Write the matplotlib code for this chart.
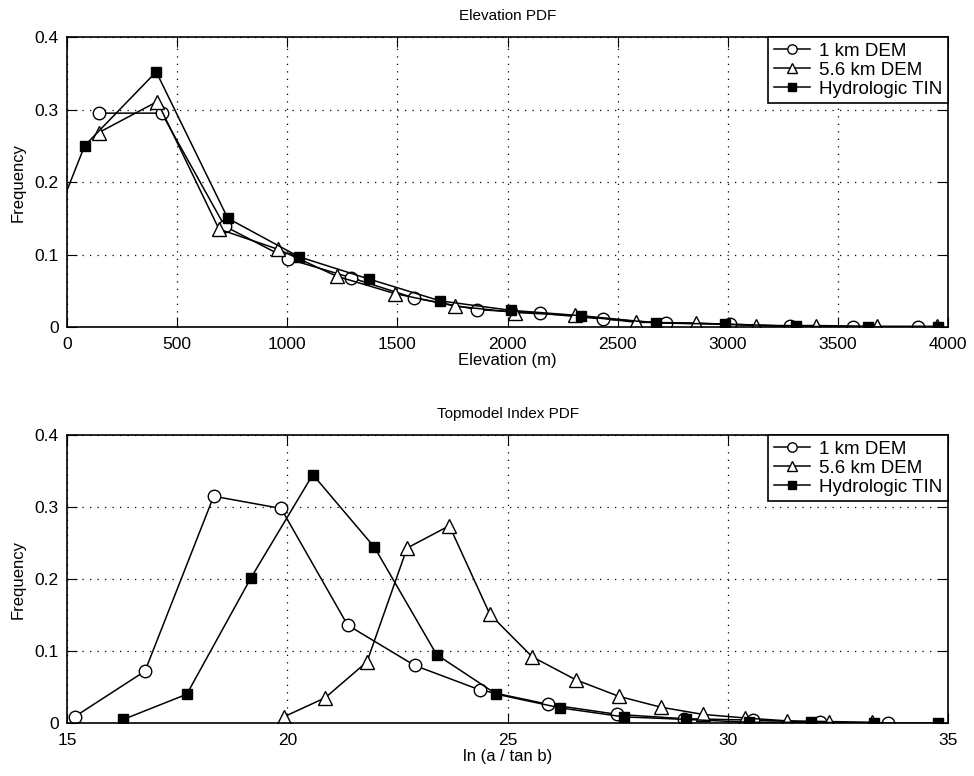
import numpy as np
import matplotlib
matplotlib.use("Agg")
import matplotlib.pyplot as plt

plt.rcParams['font.family'] = ['Liberation Sans', 'DejaVu Sans']

# elevation pdf (top)
elev_1km_x = [143, 430, 716, 1003, 1290, 1576, 1863, 2149, 2433, 2721, 3009, 3282, 3570, 3865]
elev_1km_y = [0.295, 0.295, 0.139, 0.094, 0.068, 0.040, 0.024, 0.019, 0.011, 0.0055, 0.004, 0.001, 0.0, 0.0]
elev_56km_x = [143, 410, 690, 960, 1225, 1490, 1760, 2033, 2305, 2585, 2858, 3130, 3400, 3679, 3948]
elev_56km_y = [0.268, 0.311, 0.135, 0.107, 0.070, 0.046, 0.029, 0.020, 0.016, 0.0065, 0.0055, 0.002, 0.002, 0.001, 0.001]
elev_tin_x = [-245, 80, 405, 730, 1052, 1373, 1695, 2015, 2335, 2676, 2986, 3312, 3638, 3955]
elev_tin_y = [0.0, 0.250, 0.352, 0.150, 0.097, 0.066, 0.036, 0.023, 0.0156, 0.0055, 0.004, 0.001, 0.0, 0.0]

# topmodel index pdf (bottom)
topo_1km_x = [15.18, 16.77, 18.33, 19.86, 21.37, 22.89, 24.37, 25.92, 27.49, 29.0, 30.58, 32.1, 33.63]
topo_1km_y = [0.009, 0.072, 0.315, 0.298, 0.136, 0.080, 0.046, 0.026, 0.012, 0.006, 0.004, 0.001, 0.0]
topo_56km_x = [19.92, 20.86, 21.81, 22.72, 23.68, 24.6, 25.56, 26.55, 27.53, 28.48, 29.43, 30.39, 31.34, 32.3, 33.27]
topo_56km_y = [0.0085, 0.035, 0.085, 0.243, 0.274, 0.151, 0.092, 0.060, 0.037, 0.022, 0.012, 0.007, 0.003, 0.002, 0.001]
topo_tin_x = [16.28, 17.72, 19.17, 20.58, 21.98, 23.39, 24.75, 26.2, 27.64, 29.05, 30.48, 31.89, 33.32, 34.78]
topo_tin_y = [0.005, 0.040, 0.201, 0.345, 0.244, 0.095, 0.040, 0.021, 0.0085, 0.005, 0.001, 0.001, 0.0, 0.0]

labels = ['1 km DEM', '5.6 km DEM', 'Hydrologic TIN']

fig = plt.figure(figsize=(9.74, 7.76), dpi=100)
ax1 = fig.add_axes([0.0688, 0.5786, 0.9045, 0.3737])
ax2 = fig.add_axes([0.0688, 0.0683, 0.9045, 0.3711])


def draw(ax, series, xlim, xticks, title, xlabel):
    (x1, y1), (x2, y2), (x3, y3) = series
    ax.plot(x1, y1, '-', color='k', lw=1.1, marker='o', ms=9, mfc='white', mec='k', mew=1.0, label=labels[0])
    ax.plot(x2, y2, '-', color='k', lw=1.1, marker='^', ms=10, mfc='white', mec='k', mew=1.0, label=labels[1])
    ax.plot(x3, y3, '-', color='k', lw=1.1, marker='s', ms=7.5, mfc='k', mec='k', label=labels[2])
    ax.set_xlim(xlim)
    ax.set_ylim(0, 0.4)
    ax.set_xticks(xticks)
    ax.set_yticks([0, 0.1, 0.2, 0.3, 0.4])
    ax.set_yticklabels(['0', '0.1', '0.2', '0.3', '0.4'])
    ax.grid(True, color='k', linestyle=(0, (1, 5)), linewidth=0.9)
    ax.tick_params(direction='in', top=True, right=True, length=7, labelsize=12.5, colors='k')
    ax.tick_params(axis='x', pad=7)
    ax.tick_params(axis='y', pad=6)
    for s in ax.spines.values():
        s.set_linewidth(1.2)
    ax.set_title(title, fontsize=11, pad=12)
    ax.set_xlabel(xlabel, fontsize=12, labelpad=1)
    ax.set_ylabel('Frequency', fontsize=12, labelpad=6)
    leg = ax.legend(loc='upper right', fontsize=13.5, fancybox=False, framealpha=1,
                    edgecolor='k', borderaxespad=0, handlelength=1.9,
                    borderpad=0.3, labelspacing=0.1, handletextpad=0.5, markerscale=0.75)
    leg.get_frame().set_linewidth(1.2)


draw(ax1, [(elev_1km_x, elev_1km_y), (elev_56km_x, elev_56km_y), (elev_tin_x, elev_tin_y)],
     (0, 4000), np.arange(0, 4001, 500), 'Elevation PDF', 'Elevation (m)')
draw(ax2, [(topo_1km_x, topo_1km_y), (topo_56km_x, topo_56km_y), (topo_tin_x, topo_tin_y)],
     (15, 35), [15, 20, 25, 30, 35], 'Topmodel Index PDF', 'ln (a / tan b)')

fig.savefig('out.png', dpi=100)
